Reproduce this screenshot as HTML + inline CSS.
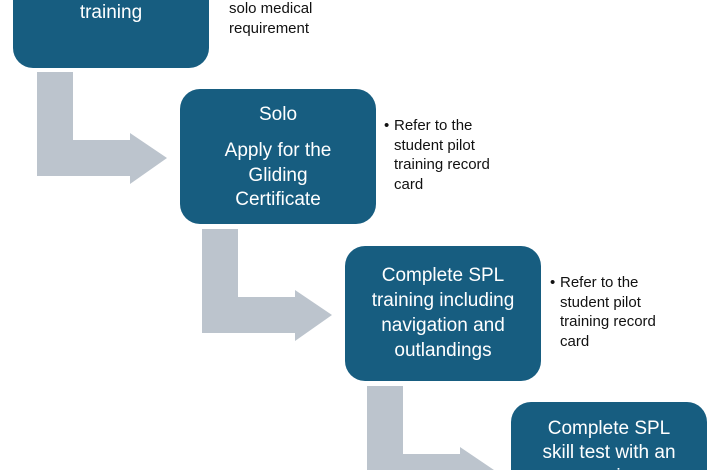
<!DOCTYPE html>
<html style="margin:0;width:720px;height:470px;overflow:hidden"><head><style>
body{margin:0;width:720px;height:470px;overflow:hidden;background:#fff;position:relative;font-family:"Liberation Sans",sans-serif}
.b{position:absolute;background:#175d80;border-radius:20px;width:196px;height:135px;color:#fff;text-align:center;font-size:19px;}
.b div{position:absolute;left:0;right:0;line-height:19px}
.t{position:absolute;font-size:15px;line-height:19.5px;color:#111}
.t i{position:absolute;left:-10px;font-style:normal}
</style></head><body>
<svg width="720" height="470" style="position:absolute;left:0;top:0">
<g fill="#bcc4cd">
<polygon points="37,72 73,72 73,140 130,140 130,133 167,158 130,184 130,176 37,176"/>
<polygon transform="translate(165,157)" points="37,72 73,72 73,140 130,140 130,133 167,158 130,184 130,176 37,176"/>
<polygon points="367,386 403,386 403,454 460,454 460,447 494,470 367,470"/>
</g></svg>
<div class="b" style="left:13px;top:-67px"><div style="top:70px">training</div></div>
<div class="t" style="left:229px;top:-1px">solo medical<br>requirement</div>
<div class="b" style="left:180px;top:89px"><div style="top:16px">Solo</div><div style="top:50px;line-height:24.5px">Apply for the<br>Gliding<br>Certificate</div></div>
<div class="t" style="left:394px;top:116px"><i>•</i>Refer to the<br>student pilot<br>training record<br>card</div>
<div class="b" style="left:345px;top:246px"><div style="top:17px;line-height:25px">Complete SPL<br>training including<br>navigation and<br>outlandings</div></div>
<div class="t" style="left:560px;top:273px"><i>•</i>Refer to the<br>student pilot<br>training record<br>card</div>
<div class="b" style="left:511px;top:402px;height:68px;border-radius:20px 20px 0 0;overflow:hidden"><div style="top:15px;line-height:24px">Complete SPL<br>skill test with an<br>examiner</div></div>
</body></html>
